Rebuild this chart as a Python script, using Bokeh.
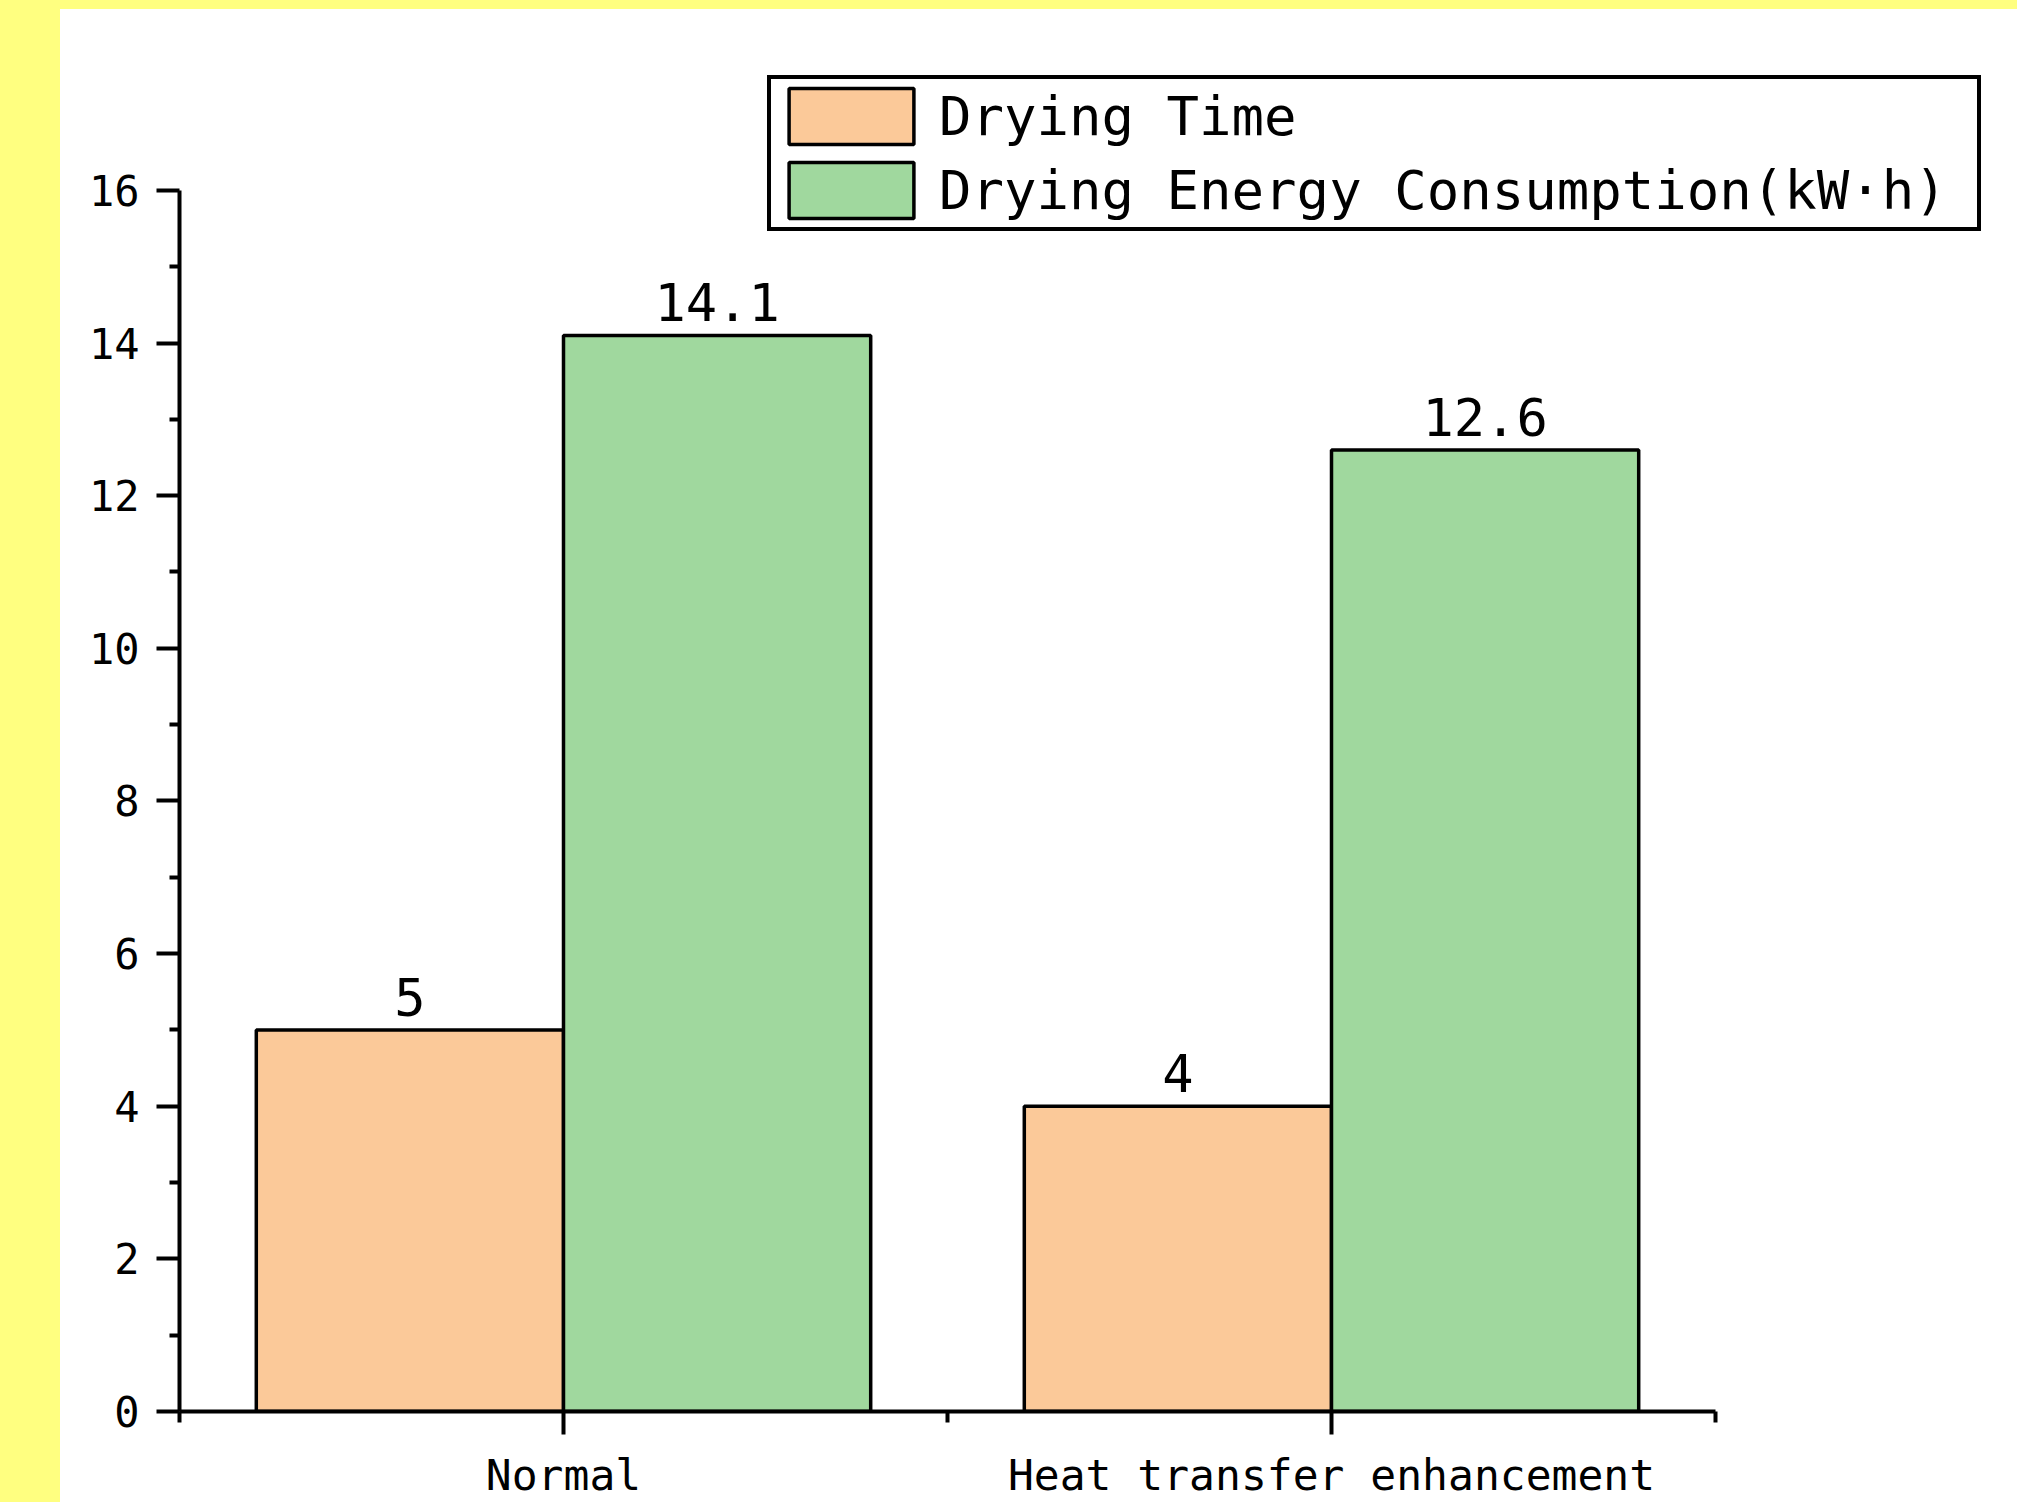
from bokeh.plotting import figure
from bokeh.models import ColumnDataSource, Range1d, FixedTicker, Legend, LegendItem, Div
from bokeh.layouts import column, row
from bokeh.embed import file_html
from bokeh.resources import INLINE
from bokeh.core.properties import value

# ---------------- data ----------------
categories = ["Normal", "Heat transfer enhancement"]
drying_time = [5, 4]
drying_energy = [14.1, 12.6]
series_names = ["Drying Time", "Drying Energy Consumption(kW·h)"]
y_ticks = [0, 2, 4, 6, 8, 10, 12, 14, 16]
y_minor_ticks = [1, 3, 5, 7, 9, 11, 13, 15]

# ---------------- style ----------------
FONT = "DejaVu Sans Mono"
YELLOW = "#FFFF80"
ORANGE = "#FBC999"
GREEN = "#A0D89E"

W, H = 1957, 1493
B_LEFT, B_RIGHT, B_TOP, B_BOTTOM = 119, 17, 31, 90
frame_w = W - B_LEFT - B_RIGHT
frame_h = H - B_TOP - B_BOTTOM
PX_PER_CAT = 768.0
PX_PER_Y = 1222.0 / 16.0
BAR_W = 0.4

x_start = 0.5
x_end = x_start + frame_w / PX_PER_CAT
y_end = frame_h / PX_PER_Y

cat_pos = [i + 1 for i in range(len(categories))]
x_minor = [cat_pos[0] - 0.5] + [c + 0.5 for c in cat_pos]

src_time = ColumnDataSource(dict(x=[c - BAR_W / 2 for c in cat_pos], top=drying_time))
src_energy = ColumnDataSource(dict(x=[c + BAR_W / 2 for c in cat_pos], top=drying_energy))
lab_src = ColumnDataSource(dict(
    x=[c - BAR_W / 2 for c in cat_pos] + [c + BAR_W / 2 for c in cat_pos],
    y=list(drying_time) + list(drying_energy),
    text=["{:g}".format(v) for v in list(drying_time) + list(drying_energy)],
))

p = figure(width=W, height=H, output_backend="svg", toolbar_location=None,
           x_range=Range1d(x_start, x_end), y_range=Range1d(0, y_end),
           min_border_left=B_LEFT, min_border_right=B_RIGHT,
           min_border_top=B_TOP, min_border_bottom=B_BOTTOM, margin=0)
p.background_fill_color = "white"
p.border_fill_color = "white"
p.outline_line_color = None
p.grid.visible = False

r1 = p.vbar(x="x", top="top", bottom=0, width=BAR_W, source=src_time,
            fill_color=ORANGE, line_color="black", line_width=3.5)
r2 = p.vbar(x="x", top="top", bottom=0, width=BAR_W, source=src_energy,
            fill_color=GREEN, line_color="black", line_width=3.5)

p.text(x="x", y="y", text="text", source=lab_src, text_font=value(FONT),
       text_font_size="52px", text_color="black", text_align="center",
       text_baseline="alphabetic", y_offset=-33)

# x axis
xa = p.xaxis[0]
xa.ticker = FixedTicker(ticks=cat_pos, minor_ticks=x_minor)
xa.major_label_overrides = {c: n for c, n in zip(cat_pos, categories)}
xa.bounds = (x_minor[0], x_minor[-1])
xa.axis_line_width = 4
xa.axis_line_color = "black"
xa.major_tick_line_width = 4
xa.minor_tick_line_width = 4
xa.major_tick_in = 0
xa.major_tick_out = 23
xa.minor_tick_in = 0
xa.minor_tick_out = 11
xa.major_label_standoff = 15
xa.major_label_text_font = FONT
xa.major_label_text_font_size = "43px"
xa.major_label_text_color = "black"

# y axis
ya = p.yaxis[0]
ya.ticker = FixedTicker(ticks=y_ticks, minor_ticks=y_minor_ticks)
ya.bounds = (y_ticks[0], y_ticks[-1])
ya.axis_line_width = 4
ya.axis_line_color = "black"
ya.major_tick_line_width = 4
ya.minor_tick_line_width = 4
ya.major_tick_in = 0
ya.major_tick_out = 23
ya.minor_tick_in = 0
ya.minor_tick_out = 10
ya.major_label_standoff = 17
ya.major_label_text_font = FONT
ya.major_label_text_font_size = "42px"
ya.major_label_text_color = "black"

legend = Legend(
    items=[LegendItem(label=series_names[0], renderers=[r1]),
           LegendItem(label=series_names[1], renderers=[r2])],
    location=(588, 1180), orientation="vertical",
    padding=2, spacing=4, margin=0,
    glyph_width=156, glyph_height=70, label_standoff=10,
    label_width=1036, label_height=70,
    label_text_font=FONT, label_text_font_size="54px", label_text_color="black",
    border_line_color="black", border_line_width=4, border_line_alpha=1.0,
    background_fill_color="white", background_fill_alpha=1.0,
)
p.add_layout(legend)

top_strip = Div(text="", width=2017, height=9, margin=0,
                styles={"background-color": YELLOW})
left_strip = Div(text="", width=60, height=H, margin=0,
                 styles={"background-color": YELLOW})
layout = column(top_strip, row(left_strip, p, spacing=0, margin=0), spacing=0, margin=0)

open("out.html", "w").write(file_html(layout, INLINE))
